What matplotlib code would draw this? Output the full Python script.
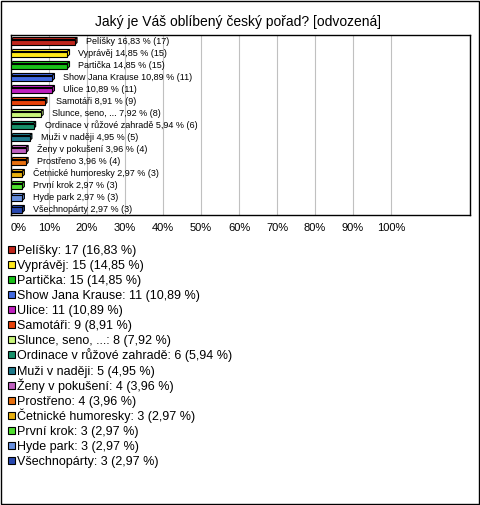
import matplotlib
matplotlib.use('Agg')
import matplotlib.pyplot as plt
from matplotlib.patches import Rectangle, Polygon

plt.rcParams['font.family'] = ['Liberation Sans', 'DejaVu Sans']

#%% data
title = 'Jaký je Váš oblíbený český pořad? [odvozená]'
names = ['Pelíšky', 'Vyprávěj', 'Partička', 'Show Jana Krause', 'Ulice', 'Samotáři',
         'Slunce, seno, ...', 'Ordinace v růžové zahradě', 'Muži v naději',
         'Ženy v pokušení', 'Prostřeno', 'Četnické humoresky', 'První krok',
         'Hyde park', 'Všechnopárty']
counts = [17, 15, 15, 11, 11, 9, 8, 6, 5, 4, 4, 3, 3, 3, 3]
pcts = [16.83, 14.85, 14.85, 10.89, 10.89, 8.91, 7.92, 5.94, 4.95, 3.96, 3.96,
        2.97, 2.97, 2.97, 2.97]
colors = ['#c0261c', '#ffe81a', '#19c119', '#4169e1', '#bf1fbf', '#e8420a',
          '#c8f57a', '#17916a', '#1f7a8c', '#c060c0', '#e87010', '#e8b010',
          '#50e030', '#6890e0', '#2848b0']
ticks = [0, 10, 20, 30, 40, 50, 60, 70, 80, 90, 100]

def fmt(v):
    return f'{v:.2f}'.replace('.', ',')

#%% figure
W, H = 480, 505
fig = plt.figure(figsize=(W/100, H/100), dpi=100)

# background axes in pixel coords for border, title and legend
bg = fig.add_axes([0, 0, 1, 1])
bg.set_xlim(0, W)
bg.set_ylim(H, 0)
bg.axis('off')
bg.add_patch(Rectangle((1, 1), W-2.5, H-2.5, fill=False, ec='black', lw=1))
bg.text(238, 22, title, ha='center', va='center', fontsize=10)

ax = fig.add_axes([11/W, 1-215/H, 459/W, 180/H])
ax.set_xlim(0, 459/3.8)
ax.set_ylim(len(names)-0.5, -0.5)
for t in ticks[1:]:
    ax.axvline(t, color='#c0c0c0', lw=0.8, zorder=0)

bh = 0.42
dx, dy = 0.55, 0.17
for i, (n, c, p, v) in enumerate(zip(names, counts, pcts, colors)):
    y0 = i - bh/2 + dy/2
    # top face and side face for a 3D look
    ax.add_patch(Polygon([(0, y0), (dx, y0-dy), (p+dx, y0-dy), (p, y0)],
                         closed=True, fc=v, ec='black', lw=0.8, zorder=2))
    ax.add_patch(Polygon([(p, y0), (p+dx, y0-dy), (p+dx, y0+bh-dy), (p, y0+bh)],
                         closed=True, fc=v, ec='black', lw=0.8, zorder=2))
    ax.add_patch(Rectangle((0, y0), p, bh, fc=v, ec='black', lw=0.8, zorder=3))
    ax.text(p+2.9, i+0.27, f'{n} {fmt(p)} % ({c})', va='baseline', ha='left',
            fontsize=6.5, zorder=4)

ax.set_xticks(ticks)
ax.set_xticklabels([f'{t}%' for t in ticks], fontsize=8)
ax.get_xticklabels()[0].set_horizontalalignment('left')
ax.tick_params(axis='x', length=0, pad=6)
ax.set_yticks([])
for s in ax.spines.values():
    s.set_color('black')
    s.set_linewidth(1)

# legend
for i, (n, c, p, v) in enumerate(zip(names, counts, pcts, colors)):
    yc = 249.5 + 15.07*i
    bg.add_patch(Rectangle((8, yc-3.5), 7, 7, fc=v, ec='black', lw=0.8))
    bg.text(17, yc+4.5, f'{n}: {c} ({fmt(p)} %)', va='baseline', ha='left', fontsize=9)

fig.savefig('out.png', dpi=100)
